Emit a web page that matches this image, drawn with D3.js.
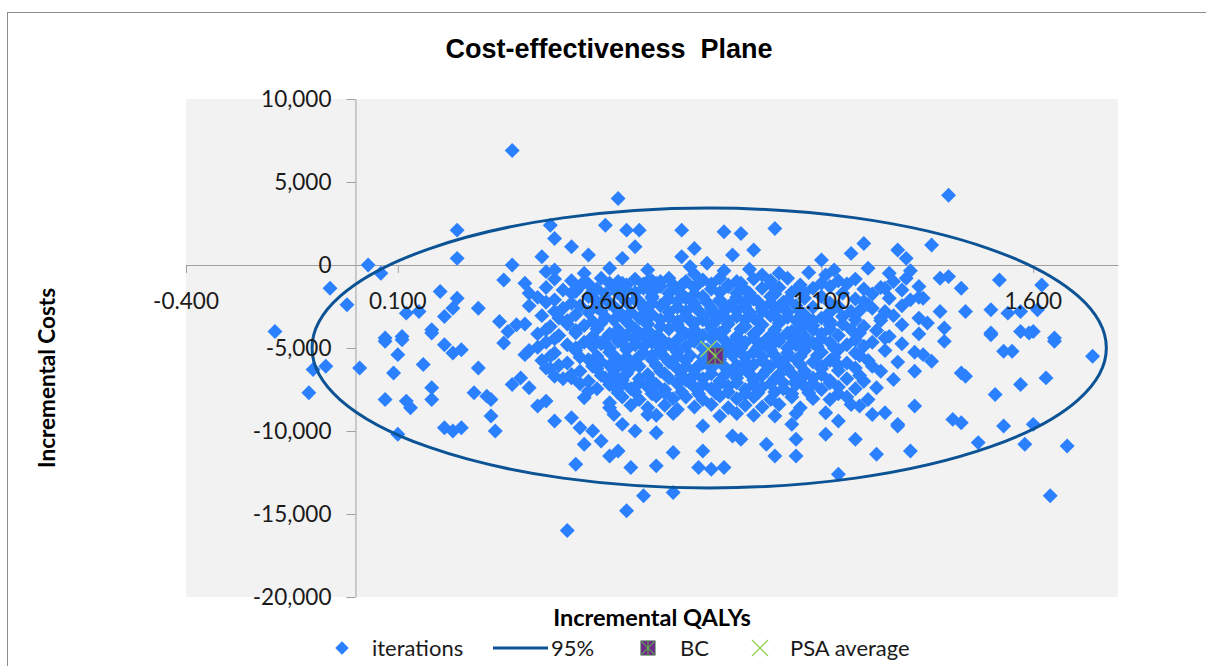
<!DOCTYPE html>
<html>
<head>
<meta charset="utf-8">
<script src="https://cdn.jsdelivr.net/npm/d3@7"></script>
<style>
    body { margin: 0; background: #ffffff; }
    text { font-family: Lato, 'Open Sans', sans-serif; fill: #1a1a1a; }
</style>
</head>
<body>
<div id="chart"></div>
<script>
//psa iterations, [incremental qalys, incremental costs]
const iterations = [
    //outlying iterations
    [0.37,6900],[0.62,4000],[0.24,2100],[0.24,400],[0.03,0],[0.06,-500],[-0.06,-1400],[-0.02,-2400],[-0.19,-4000],
    [0.37,0],[0.35,-900],[0.40,-1100],[0.41,-1700],[0.44,500],[0.46,2400],[0.47,1600],[0.51,1100],[0.55,600],
    [0.59,2400],[0.60,-200],[0.63,400],[0.64,2100],[0.67,2100],[0.66,1100],[0.77,2100],[0.63,-1100],[0.45,-400],[0.47,-300],
    [0.20,-1600],[0.24,-2000],[0.23,-2600],[0.29,-2600],[0.12,-2900],[0.15,-2800],[0.18,-3900],[0.21,-3100],[0.34,-3400],
    [0.38,-3600],[0.36,-4000],[0.54,-1000],[0.52,-1600],[0.56,-1600],[0.69,-1000],[0.72,-1000],[0.75,-1200],[0.70,-2000],
    [0.07,-4400],[0.11,-4300],[0.77,500],[0.79,-100],
    [1.40,4200],[0.99,2200],[0.87,2000],[0.91,1900],[0.94,900],[0.89,600],[0.83,100],[0.80,1000],[1.10,300],[1.20,1300],
    [1.17,700],[1.21,-200],[1.28,900],[1.30,400],[1.36,1200],[1.00,-500],[1.11,-600],[1.25,-1400],[1.38,-800],[1.40,-700],
    [1.43,-1400],[1.52,-900],[1.62,-1200],[1.33,-1300],[1.31,-2100],[1.34,-2000],[1.44,-2800],[1.50,-2700],[1.54,-2900],
    [1.57,-2800],[1.61,-2700],[1.35,-3500],[1.38,-2800],[1.39,-3800],[1.50,-4100],[1.57,-4000],[1.60,-4000],[1.65,-4400],
    [1.21,-2400],[1.24,-3200],[1.17,-2800],[1.12,-3600],[1.06,-3600],[1.03,-4000],
    [-0.10,-6300],[-0.07,-6100],[-0.11,-7700],[0.01,-6200],[0.07,-4600],[0.11,-4500],[0.10,-5400],[0.09,-6500],[0.07,-8100],
    [0.12,-8200],[0.13,-8600],[0.10,-10200],[0.16,-6000],[0.18,-7400],[0.18,-8100],[0.18,-4100],[0.21,-4800],[0.23,-5300],
    [0.25,-5100],[0.29,-6200],[0.28,-7700],[0.31,-7900],[0.32,-8100],[0.32,-9100],[0.33,-10000],[0.21,-9800],[0.23,-10000],
    [0.25,-9800],[0.35,-4700],[0.40,-5400],[0.37,-7200],[0.39,-6800],[0.41,-7400],[0.43,-8500],[0.45,-8200],[0.47,-9400],
    [0.45,-6200],[0.47,-6700],[0.51,-6800],[0.51,-9200],[0.53,-9800],[0.56,-10000],[0.54,-10800],[0.58,-10600],[0.52,-12000],
    [0.60,-11500],[0.62,-11200],[0.65,-12200],[0.71,-12100],[0.75,-11300],[0.64,-14800],[0.68,-13900],[0.75,-13700],
    [0.50,-16000],[0.54,-8000],[0.55,-7600],[0.60,-8600],[0.61,-9000],[0.63,-9600],[0.66,-10000],[0.71,-10100],[0.69,-9000],
    [0.76,-8700],[0.60,-8300],
    [1.74,-5500],[1.65,-4600],[1.53,-5200],[1.55,-5200],[1.57,-7200],[1.63,-6800],[1.51,-7800],[1.43,-6500],[1.44,-6700],
    [1.68,-10900],[1.64,-13900],[1.60,-9600],[1.58,-10800],[1.53,-9700],[1.47,-10700],[1.41,-9300],[1.43,-9500],[1.31,-11200],
    [1.23,-11400],[1.14,-12600],[1.18,-10500],[1.11,-10200],[1.14,-9400],[1.11,-8900],[1.28,-9700],[1.32,-8500],[1.04,-11500],
    [1.04,-10500],[0.99,-11500],[0.97,-10800],[1.03,-9600],[0.82,-11200],[0.87,-12200],[0.81,-12200],[0.84,-12300],
    [0.82,-9700],[0.91,-10500],[0.89,-10300],[1.12,-8100],[1.17,-8400],[1.22,-9000],[1.25,-8900],[1.28,-9600],[1.36,-5800],
    [1.34,-5400],[1.32,-6400],[1.39,-4600],[1.50,-4200],[1.59,-4100],
    //dense core of the cloud
    [0.54,-500],[0.69,-300],[0.80,-550],[0.87,-350],[0.93,-250],[0.96,-600],[1.07,-450],[1.13,-300],[1.26,-500],[1.31,-350],
    [0.47,-850],[0.51,-950],[0.58,-800],[0.62,-1000],[0.66,-850],[0.70,-950],[0.74,-800],[0.78,-1000],[0.82,-900],[0.86,-800],
    [0.90,-1000],[0.94,-850],[0.98,-950],[1.02,-800],[1.14,-950],[1.18,-850],[1.27,-1000],[1.30,-800],
    [0.55,-1150],[0.64,-1200],[0.71,-1100],[0.77,-1200],[0.84,-1150],[0.91,-1100],[1.05,-1200],[1.16,-1150],
    [0.60,-1100],[0.68,-1150],[0.81,-1100],[0.88,-1200],[0.98,-1150],[1.10,-1100],
    [0.45,-1350],[0.49,-1500],[0.53,-1300],[0.57,-1450],[0.61,-1350],[0.64,-1500],[0.68,-1400],[0.72,-1300],[0.76,-1500],
    [0.80,-1350],[0.84,-1450],[0.88,-1300],[0.92,-1500],[0.96,-1400],[1.00,-1350],[1.04,-1500],[1.08,-1400],[1.12,-1300],
    [1.20,-1450],[1.24,-1350],[1.29,-1500],
    [0.51,-1700],[0.59,-1750],[0.66,-1650],[0.74,-1700],[0.80,-1750],[0.86,-1650],[0.93,-1700],[0.99,-1750],[1.06,-1650],
    [1.15,-1700],[1.22,-1750],[0.62,-1700],[0.70,-1650],[0.77,-1750],[0.90,-1700],[1.03,-1650],
    [0.43,-1950],[0.47,-2100],[0.55,-1900],[0.59,-2050],[0.63,-1950],[0.66,-2100],[0.70,-1900],[0.74,-2050],[0.78,-2000],
    [0.82,-1900],[0.86,-2100],[0.90,-1950],[0.94,-2050],[0.98,-1900],[1.02,-2100],[1.06,-2000],[1.10,-1900],[1.18,-2050],
    [1.26,-2000],[1.33,-1950],
    [0.45,-2250],[0.51,-2300],[0.57,-2200],[0.64,-2250],[0.70,-2300],[0.76,-2200],[0.83,-2250],[0.89,-2300],[0.95,-2200],
    [1.01,-2250],[1.12,-2300],[1.20,-2200],[0.60,-2300],[0.67,-2200],[0.73,-2250],[0.80,-2300],[0.86,-2200],[0.92,-2250],
    [0.98,-2300],
    [0.41,-2450],[0.49,-2600],[0.53,-2450],[0.57,-2550],[0.61,-2500],[0.68,-2600],[0.72,-2450],[0.76,-2550],[0.80,-2450],
    [0.84,-2600],[0.88,-2500],[0.92,-2450],[0.96,-2600],[1.00,-2500],[1.04,-2450],[1.08,-2550],[1.14,-2500],[1.22,-2600],
    [1.29,-2450],
    [0.47,-2800],[0.55,-2850],[0.62,-2750],[0.69,-2800],[0.74,-2850],[0.81,-2750],[0.87,-2800],[0.93,-2850],[0.99,-2750],
    [1.05,-2800],[1.12,-2850],[1.19,-2750],[1.25,-2800],[0.58,-2750],[0.65,-2850],[0.78,-2800],[0.84,-2850],[0.90,-2750],
    [0.96,-2800],[1.02,-2850],
    [0.44,-3050],[0.48,-3200],[0.52,-3000],[0.59,-3150],[0.63,-3050],[0.67,-3200],[0.70,-3000],[0.74,-3150],[0.78,-3050],
    [0.82,-3200],[0.86,-3000],[0.90,-3100],[0.94,-3200],[0.98,-3050],[1.02,-3150],[1.06,-3000],[1.10,-3200],[1.15,-3100],
    [1.27,-3050],[1.33,-3200],
    [0.50,-3350],[0.56,-3400],[0.61,-3300],[0.68,-3350],[0.76,-3400],[0.82,-3300],[0.88,-3350],[0.95,-3400],[1.00,-3300],
    [1.04,-3350],[1.12,-3400],[1.18,-3300],[1.24,-3350],[0.64,-3400],[0.72,-3300],[0.79,-3350],[0.85,-3400],[0.92,-3300],
    [1.08,-3350],
    [0.40,-3550],[0.46,-3700],[0.50,-3550],[0.54,-3650],[0.58,-3500],[0.65,-3650],[0.69,-3550],[0.72,-3700],[0.76,-3600],
    [0.80,-3500],[0.84,-3650],[0.88,-3550],[0.92,-3700],[0.96,-3600],[1.00,-3500],[1.08,-3650],[1.15,-3550],[1.20,-3700],
    [1.29,-3600],
    [0.45,-3900],[0.52,-3950],[0.57,-3850],[0.62,-3900],[0.69,-3950],[0.74,-3850],[0.80,-3900],[0.87,-3950],[0.91,-3850],
    [0.99,-3900],[1.04,-3950],[1.12,-3850],[1.17,-3900],[1.23,-3950],[0.66,-3850],[0.77,-3950],[0.84,-3850],[0.95,-3950],
    [1.08,-3900],
    [0.43,-4150],[0.48,-4250],[0.52,-4100],[0.56,-4300],[0.60,-4150],[0.64,-4250],[0.67,-4100],[0.71,-4300],[0.78,-4150],
    [0.82,-4250],[0.86,-4100],[0.90,-4300],[0.94,-4150],[0.98,-4250],[1.02,-4100],[1.06,-4300],[1.10,-4150],[1.14,-4250],
    [1.19,-4100],[1.26,-4300],[1.33,-4150],
    [0.47,-4450],[0.56,-4500],[0.62,-4400],[0.69,-4450],[0.76,-4500],[0.84,-4400],[0.90,-4450],[0.97,-4500],[1.03,-4400],
    [1.10,-4450],[1.18,-4500],[1.25,-4400],[0.59,-4450],[0.66,-4500],[0.72,-4400],[0.80,-4450],[0.87,-4500],[0.94,-4400],
    [1.00,-4450],[1.06,-4500],
    [0.45,-4650],[0.50,-4800],[0.54,-4650],[0.58,-4750],[0.62,-4600],[0.66,-4800],[0.70,-4650],[0.74,-4750],[0.80,-4600],
    [0.88,-4800],[0.92,-4650],[0.96,-4750],[1.00,-4600],[1.04,-4800],[1.08,-4700],[1.12,-4650],[1.16,-4800],[1.22,-4650],
    [1.29,-4750],
    [0.43,-4950],[0.52,-5000],[0.56,-4900],[0.64,-4950],[0.72,-5000],[0.78,-4900],[0.85,-4950],[0.91,-5000],[0.98,-4900],
    [1.06,-4950],[1.13,-5000],[1.20,-4900],[0.60,-5000],[0.68,-4900],[0.75,-4950],[0.82,-5000],[0.88,-4900],[0.95,-4950],
    [1.02,-5000],[1.09,-4900],
    [0.41,-5150],[0.47,-5300],[0.52,-5150],[0.60,-5250],[0.64,-5100],[0.68,-5300],[0.72,-5150],[0.76,-5250],[0.83,-5100],
    [0.87,-5300],[0.90,-5150],[0.94,-5250],[0.98,-5100],[1.02,-5300],[1.06,-5150],[1.10,-5250],[1.14,-5100],[1.18,-5300],
    [1.25,-5150],[1.32,-5250],
    [0.46,-5500],[0.53,-5550],[0.61,-5450],[0.67,-5500],[0.73,-5550],[0.79,-5450],[0.85,-5500],[0.92,-5550],[0.99,-5450],
    [1.05,-5500],[1.13,-5550],[1.19,-5450],[0.57,-5500],[0.64,-5550],[0.70,-5450],[0.76,-5500],[0.82,-5550],[0.89,-5450],
    [0.96,-5500],[1.02,-5550],[1.09,-5450],
    [0.44,-5750],[0.50,-5900],[0.55,-5700],[0.58,-5850],[0.62,-5750],[0.66,-5900],[0.70,-5700],[0.74,-5850],[0.78,-5750],
    [0.82,-5900],[0.86,-5700],[0.92,-5850],[0.96,-5750],[1.00,-5900],[1.04,-5700],[1.08,-5850],[1.12,-5750],[1.16,-5900],
    [1.21,-5750],[1.28,-5850],
    [0.48,-6050],[0.56,-6100],[0.63,-6000],[0.71,-6050],[0.78,-6100],[0.84,-6000],[0.90,-6050],[0.98,-6100],[1.05,-6000],
    [1.14,-6050],[1.22,-6100],[0.60,-6050],[0.67,-6100],[0.75,-6000],[0.81,-6050],[0.87,-6100],[0.94,-6000],[1.01,-6050],
    [1.10,-6100],
    [0.46,-6250],[0.53,-6400],[0.57,-6250],[0.61,-6350],[0.65,-6200],[0.72,-6400],[0.76,-6250],[0.80,-6350],[0.84,-6200],
    [0.88,-6400],[0.92,-6250],[0.97,-6350],[1.02,-6200],[1.06,-6400],[1.10,-6250],[1.14,-6350],[1.18,-6200],[1.24,-6400],
    [0.51,-6600],[0.58,-6650],[0.64,-6550],[0.69,-6600],[0.77,-6650],[0.84,-6550],[0.90,-6600],[0.96,-6650],[1.03,-6550],
    [1.10,-6600],[1.19,-6650],[0.61,-6600],[0.73,-6550],[0.80,-6600],[0.87,-6650],[0.93,-6550],[1.00,-6600],[1.06,-6650],
    [0.49,-6850],[0.55,-7000],[0.59,-6800],[0.63,-6950],[0.67,-6850],[0.70,-7000],[0.74,-6800],[0.78,-6950],[0.82,-6850],
    [0.86,-7000],[0.90,-6800],[0.94,-6950],[0.99,-6850],[1.04,-7000],[1.08,-6800],[1.12,-6950],[1.16,-6850],[1.20,-7000],
    [1.27,-6900],
    [0.53,-7150],[0.60,-7200],[0.67,-7100],[0.76,-7150],[0.82,-7200],[0.90,-7100],[0.98,-7150],[1.04,-7200],[1.12,-7100],
    [0.63,-7150],[0.71,-7200],[0.79,-7100],[0.86,-7150],[0.94,-7200],[1.01,-7100],[1.08,-7150],
    [0.57,-7450],[0.61,-7300],[0.65,-7450],[0.69,-7350],[0.73,-7500],[0.80,-7350],[0.84,-7450],[0.88,-7300],[0.92,-7500],
    [0.96,-7350],[1.01,-7450],[1.06,-7300],[1.10,-7500],[1.14,-7350],[1.18,-7450],[1.23,-7400],
    [0.62,-7700],[0.70,-7750],[0.77,-7650],[0.85,-7700],[0.92,-7750],[0.99,-7650],[1.07,-7700],[1.14,-7750],
    [0.66,-7650],[0.73,-7700],[0.81,-7750],[0.88,-7650],[0.95,-7700],[1.03,-7750],
    [0.63,-7950],[0.67,-8100],[0.71,-7900],[0.75,-8050],[0.78,-7950],[0.82,-8100],[0.86,-7900],[0.90,-8050],[0.94,-7950],
    [0.98,-8100],[1.03,-7950],[1.08,-8050],[1.16,-7950],[1.21,-8100],
    [0.65,-8450],[0.69,-8600],[0.73,-8450],[0.80,-8550],[0.84,-8400],[0.88,-8600],[0.92,-8450],[0.96,-8550],[1.00,-8400],
    [1.05,-8600],[1.19,-8500],
    [0.71,-9050],[0.75,-8950],[0.86,-9100],[0.90,-8950],[0.94,-9050],[0.99,-9100],[1.04,-8950]
];

//95% confidence ellipse: centre and semi-axes
const ellipseCentre = [0.835, -5000];
const ellipseRadii = [0.9375, 8430];

//base case and psa mean
const baseCase = [0.849, -5480];
const psaAverage = [0.833, -5060];

//axis ticks
const qalyTicks = [-0.4, 0.1, 0.6, 1.1, 1.6];
const costTicks = [-20000, -15000, -10000, -5000, 0, 5000, 10000];

const width = 1206;
const height = 666;
const plot = {left: 186, right: 1118, top: 99, bottom: 597};

const pointColor = '#2b80ff';
const ellipseColor = '#0b5394';
const axisColor = '#a0a0a0';

let svg = d3.select('#chart')
    .append('svg')
    .attr('width', width)
    .attr('height', height);

//scales
let x = d3.scaleLinear().domain([-0.4, 1.8]).range([plot.left, plot.right]);
let y = d3.scaleLinear().domain([-20000, 10000]).range([plot.bottom, plot.top]);

//chart frame
svg.append('rect')
    .attr('x', 7.5)
    .attr('y', 12.5)
    .attr('width', width + 20)
    .attr('height', height + 20)
    .attr('fill', 'none')
    .attr('stroke', '#8c8c8c');

//plot area
svg.append('rect')
    .attr('x', x(-0.4))
    .attr('y', y(10000))
    .attr('width', x(1.8) - x(-0.4))
    .attr('height', y(-20000) - y(10000))
    .attr('fill', '#f2f2f2');

//axes, crossing at zero
let fmtCost = function(d) { return d3.format(',')(d).replace('\u2212', '-'); };
let fmtQaly = function(d) { return d3.format('.3f')(d).replace('\u2212', '-'); };

let yAxis = svg.append('g')
    .attr('transform', `translate(${x(0)}, 0)`)
    .call(d3.axisLeft(y).tickValues(costTicks).tickFormat(fmtCost)
        .tickSize(9).tickSizeOuter(0));

let xAxis = svg.append('g')
    .attr('transform', `translate(0, ${y(0)})`)
    .call(d3.axisBottom(x).tickValues(qalyTicks).tickFormat(fmtQaly)
        .tickSize(8).tickSizeOuter(0));

//keep only the lines, labels are drawn later above the points
[xAxis, yAxis].forEach(function(a) {
    a.selectAll('path, line').attr('stroke', axisColor);
    a.selectAll('text').remove();
});

//iterations
let diamond = d3.symbol().type(d3.symbolSquare).size(112);
svg.append('g')
    .selectAll('path')
    .data(iterations)
    .enter().append('path')
    .attr('d', diamond)
    .attr('transform', function(d) { return `translate(${x(d[0])}, ${y(d[1])}) rotate(45)`; })
    .attr('fill', pointColor);

//95% ellipse
svg.append('ellipse')
    .attr('cx', x(ellipseCentre[0]))
    .attr('cy', y(ellipseCentre[1]))
    .attr('rx', x(ellipseCentre[0] + ellipseRadii[0]) - x(ellipseCentre[0]))
    .attr('ry', y(ellipseCentre[1] - ellipseRadii[1]) - y(ellipseCentre[1]))
    .attr('fill', 'none')
    .attr('stroke', ellipseColor)
    .attr('stroke-width', 3);

//marker helpers
function drawBC(g) {
    g.append('rect').attr('x', -8).attr('y', -8).attr('width', 16).attr('height', 16)
        .attr('fill', '#702a8c').attr('stroke', '#5a8f5a').attr('stroke-width', 0.8);
    g.append('path').attr('d', 'M-7,-7L7,7M7,-7L-7,7M0,-8V8')
        .attr('stroke', '#5cae48').attr('stroke-width', 1.2);
}
function drawCross(g) {
    g.append('path').attr('d', 'M-8,-8L8,8M8,-8L-8,8')
        .attr('stroke', '#9bd35a').attr('stroke-width', 1.5);
}

drawBC(svg.append('g').attr('transform', `translate(${x(baseCase[0])}, ${y(baseCase[1])})`));
drawCross(svg.append('g').attr('transform', `translate(${x(psaAverage[0])}, ${y(psaAverage[1])})`));

//tick labels on top of the points
svg.append('g')
    .selectAll('text')
    .data(costTicks)
    .enter().append('text')
    .attr('x', x(0) - 24)
    .attr('y', function(d) { return y(d); })
    .attr('dy', '0.35em')
    .style('text-anchor', 'end')
    .style('font-size', '22.5px')
    .text(fmtCost);

svg.append('g')
    .selectAll('text')
    .data(qalyTicks)
    .enter().append('text')
    .attr('x', function(d) { return x(d); })
    .attr('y', y(0) + 44)
    .style('text-anchor', 'middle')
    .style('font-size', '22.5px')
    .text(fmtQaly);

//titles
svg.append('text')
    .attr('x', 609)
    .attr('y', 58)
    .style('text-anchor', 'middle')
    .style('white-space', 'pre')
    .style('font-family', "'Liberation Sans', Arial, sans-serif")
    .style('font-weight', 'bold')
    .style('font-size', '27px')
    .style('fill', '#000')
    .text('Cost-effectiveness  Plane');

svg.append('text')
    .attr('x', 652)
    .attr('y', 626)
    .style('text-anchor', 'middle')
    .style('font-weight', 'bold')
    .style('font-size', '23.5px')
    .style('fill', '#000')
    .text('Incremental QALYs');

svg.append('text')
    .attr('transform', 'translate(55, 378) rotate(-90)')
    .style('text-anchor', 'middle')
    .style('font-weight', 'bold')
    .style('font-size', '22.5px')
    .style('fill', '#000')
    .text('Incremental Costs');

//legend
let legendY = 648;
svg.append('path')
    .attr('d', d3.symbol().type(d3.symbolSquare).size(90))
    .attr('transform', `translate(342, ${legendY}) rotate(45)`)
    .attr('fill', pointColor);
svg.append('line')
    .attr('x1', 493).attr('x2', 548)
    .attr('y1', legendY).attr('y2', legendY)
    .attr('stroke', ellipseColor).attr('stroke-width', 3);
drawBC(svg.append('g').attr('transform', `translate(648, ${legendY}) scale(0.9)`));
drawCross(svg.append('g').attr('transform', `translate(760, ${legendY})`));

let legendText = [['iterations', 372], ['95%', 551], ['BC', 680], ['PSA average', 790]];
svg.append('g')
    .selectAll('text')
    .data(legendText)
    .enter().append('text')
    .attr('x', function(d) { return d[1]; })
    .attr('y', legendY + 8)
    .style('font-size', '22px')
    .text(function(d) { return d[0]; });
</script>
</body>
</html>
